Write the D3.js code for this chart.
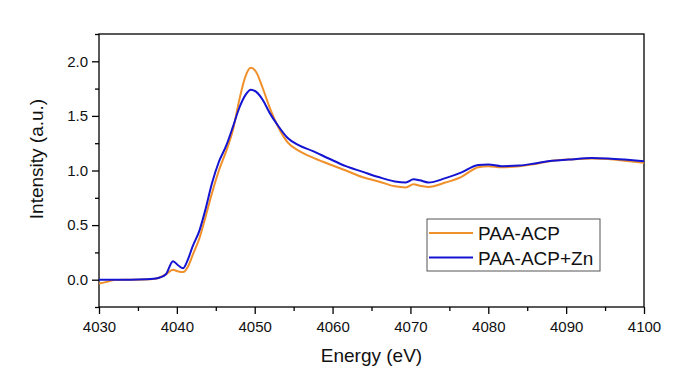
<!DOCTYPE html>
<html>
<head>
<meta charset="utf-8">
<script src="https://cdn.jsdelivr.net/npm/d3@7"></script>
<style>
  body { margin: 0; background: #fff; }
  svg { display: block; font-family: Arial, "Liberation Sans", sans-serif; }
  .axis path, .axis line { stroke: #000; }
</style>
</head>
<body>
<div id="chart"></div>
<script>
// energy grid (eV), shared by both spectra
const energy = [4030, 4031, 4032, 4034, 4036, 4037, 4037.8, 4038.6, 4039.5, 4040.2,
  4040.8, 4041.5, 4042, 4042.9, 4043.7, 4044.5, 4045.4, 4046.3, 4047.2, 4048,
  4048.8, 4049.5, 4050.2, 4051, 4051.9, 4053, 4054.2, 4055.7, 4057.4, 4059.5,
  4061.7, 4063.8, 4065.9, 4068, 4069.4, 4070.4, 4071.2, 4072.3, 4074.5, 4076.5,
  4078.7, 4080, 4081.7, 4084, 4086, 4088.2, 4090.3, 4093.3, 4095.4, 4097.5, 4100];

const paaAcp = [-0.035, -0.02, -0.003, 0, 0.002, 0.006, 0.02, 0.05, 0.09, 0.075,
  0.07, 0.13, 0.22, 0.38, 0.58, 0.79, 1.0, 1.17, 1.37, 1.64,
  1.86, 1.94, 1.9, 1.76, 1.58, 1.4, 1.26, 1.18, 1.12, 1.06,
  1.0, 0.94, 0.9, 0.855, 0.845, 0.875, 0.86, 0.85, 0.89, 0.94,
  1.03, 1.04, 1.03, 1.04, 1.06, 1.09, 1.1, 1.11, 1.105, 1.09, 1.07];

const paaAcpZn = [0, 0, 0, 0, 0.003, 0.008, 0.02, 0.05, 0.17, 0.13,
  0.105, 0.2, 0.3, 0.45, 0.65, 0.88, 1.08, 1.22, 1.4, 1.57,
  1.69, 1.74, 1.72, 1.65, 1.53, 1.41, 1.3, 1.23, 1.18, 1.11,
  1.04, 0.99, 0.94, 0.9, 0.89, 0.92, 0.91, 0.89, 0.93, 0.98,
  1.05, 1.055, 1.04, 1.045, 1.065, 1.09, 1.1, 1.115, 1.11, 1.1, 1.085];

const seriesNames = ['PAA-ACP', 'PAA-ACP+Zn'];
const seriesColors = ['#F0902A', '#1414D2'];
const xTicks = [4030, 4040, 4050, 4060, 4070, 4080, 4090, 4100];
const yTicks = [0.0, 0.5, 1.0, 1.5, 2.0];

const W = 677, H = 379;
const margin = { top: 34, right: 33, bottom: 72, left: 99 };
const width = W - margin.left - margin.right;
const height = H - margin.top - margin.bottom;

const svg = d3.select('#chart').append('svg')
  .attr('width', W)
  .attr('height', H);

const g = svg.append('g')
  .attr('transform', 'translate(' + margin.left + ',' + margin.top + ')');

const x = d3.scaleLinear().domain([4030, 4100]).range([0, width]);
const y = d3.scaleLinear().domain([-0.25, 2.25]).range([height, 0]);

// minor ticks
g.append('g')
  .attr('class', 'axis')
  .attr('transform', `translate(0,${height})`)
  .call(d3.axisBottom(x).tickValues(d3.range(4035, 4100, 10)).tickSize(4).tickFormat(''))
  .call(a => a.select('.domain').remove());
g.append('g')
  .attr('class', 'axis')
  .call(d3.axisLeft(y).tickValues([-0.25, 0.25, 0.75, 1.25, 1.75, 2.25]).tickSize(4).tickFormat(''))
  .call(a => a.select('.domain').remove());

// major ticks
g.append('g')
  .attr('class', 'axis')
  .attr('transform', `translate(0,${height})`)
  .call(d3.axisBottom(x).tickValues(xTicks).tickSize(7).tickPadding(7).tickFormat(d3.format('d')))
  .call(a => a.select('.domain').remove())
  .selectAll('text')
  .style('font-size', '15px')
  .attr('fill', '#111');

g.append('g')
  .attr('class', 'axis')
  .call(d3.axisLeft(y).tickValues(yTicks).tickSize(7).tickPadding(4).tickFormat(d3.format('.1f')))
  .call(a => a.select('.domain').remove())
  .selectAll('text')
  .style('font-size', '15px')
  .attr('fill', '#111');

g.selectAll('.axis line').attr('stroke-width', 1.3);

// frame
g.append('rect')
  .attr('width', width)
  .attr('height', height)
  .attr('fill', 'none')
  .attr('stroke', '#000')
  .attr('stroke-width', 1.3);

// curves
const line = d3.line()
  .x((d, i) => x(energy[i]))
  .y(d => y(d))
  .curve(d3.curveMonotoneX);

[paaAcp, paaAcpZn].forEach((vals, k) => {
  g.append('path')
    .datum(vals)
    .attr('fill', 'none')
    .attr('stroke', seriesColors[k])
    .attr('stroke-width', 2)
    .attr('d', line);
});

// axis titles
svg.append('text')
  .attr('x', margin.left + width / 2)
  .attr('y', 362)
  .attr('text-anchor', 'middle')
  .style('font-size', '19px')
  .attr('fill', '#111')
  .text('Energy (eV)');

svg.append('text')
  .attr('transform', 'translate(43,159) rotate(-90)')
  .attr('text-anchor', 'middle')
  .style('font-size', '19px')
  .attr('fill', '#111')
  .text('Intensity (a.u.)');

// legend
const lg = svg.append('g').attr('transform', 'translate(427,219)');
lg.append('rect')
  .attr('width', 173)
  .attr('height', 52)
  .attr('fill', '#fff')
  .attr('stroke', '#555')
  .attr('stroke-width', 1);

seriesNames.forEach((name, k) => {
  const ly = 14 + k * 24.5;
  lg.append('line')
    .attr('x1', 2).attr('x2', 46)
    .attr('y1', ly).attr('y2', ly)
    .attr('stroke', seriesColors[k])
    .attr('stroke-width', 2);
  lg.append('text')
    .attr('x', 51)
    .attr('y', ly + 7)
    .style('font-size', '19px')
    .attr('fill', '#111')
    .text(name);
});
</script>
</body>
</html>
